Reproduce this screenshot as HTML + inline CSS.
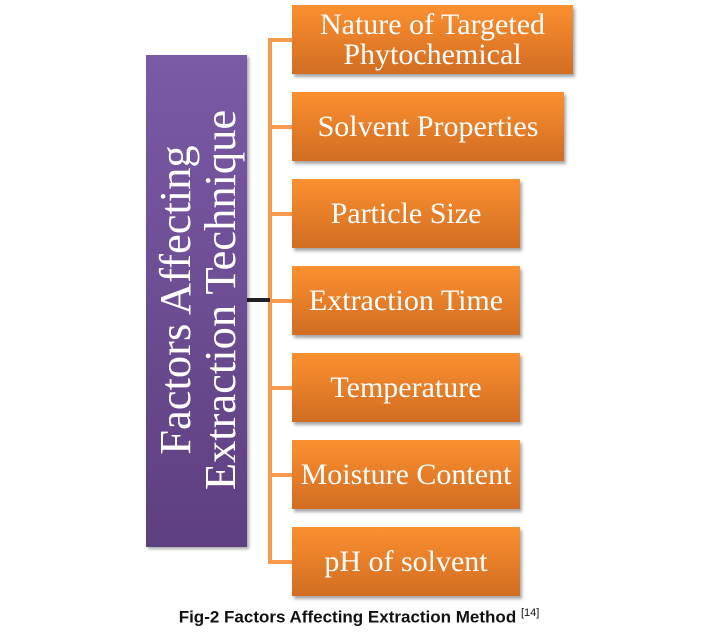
<!DOCTYPE html>
<html><head><style>
body{margin:0;width:720px;height:643px;background:#fff;position:relative;overflow:hidden;font-family:"Liberation Serif",serif}
.p{position:absolute;left:146px;top:55px;width:101px;height:492px;background:linear-gradient(#7b5aa6,#5e3f7f);box-shadow:2px 2px 3px rgba(0,0,0,.35)}
.pt{position:absolute;left:198px;top:300px;transform:translate(-50%,-50%) rotate(-90deg);white-space:nowrap;color:#fff;font-size:44.5px;line-height:45px;text-align:center}
.o{position:absolute;left:292px;height:69px;background:linear-gradient(#fb9030,#d26d22);box-shadow:2px 3px 3px rgba(0,0,0,.35);color:#fff;font-size:30px;display:flex;align-items:center;justify-content:center;text-align:center;line-height:30px;white-space:nowrap}
.l{position:absolute;background:#f59a4f}
.cap{position:absolute;top:607px;left:0;width:718px;text-align:center;font:bold 17px "Liberation Sans",sans-serif;color:#111}
</style></head><body>
<div class="l" style="left:268px;top:38px;width:4px;height:525px"></div>
<div class="l" style="left:268px;top:38px;width:26px;height:4px"></div>
<div class="l" style="left:268px;top:125px;width:26px;height:4px"></div>
<div class="l" style="left:268px;top:212px;width:26px;height:4px"></div>
<div class="l" style="left:268px;top:299px;width:26px;height:4px"></div>
<div class="l" style="left:268px;top:386px;width:26px;height:4px"></div>
<div class="l" style="left:268px;top:473px;width:26px;height:4px"></div>
<div class="l" style="left:268px;top:560px;width:26px;height:4px"></div>
<div style="position:absolute;left:247px;top:298px;width:23px;height:4px;background:#222"></div>
<div class="p"></div>
<div class="pt">Factors Affecting<br>Extraction Technique</div>
<div class="o" style="top:5px;width:281px">Nature of Targeted<br>Phytochemical</div>
<div class="o" style="top:92px;width:272px">Solvent Properties</div>
<div class="o" style="top:179px;width:228px">Particle Size</div>
<div class="o" style="top:266px;width:228px">Extraction Time</div>
<div class="o" style="top:353px;width:228px">Temperature</div>
<div class="o" style="top:440px;width:228px">Moisture Content</div>
<div class="o" style="top:527px;width:228px">pH of solvent</div>
<div class="cap">Fig-2 Factors Affecting Extraction Method <sup style="font-weight:normal;font-size:11px">[14]</sup></div>
</body></html>
